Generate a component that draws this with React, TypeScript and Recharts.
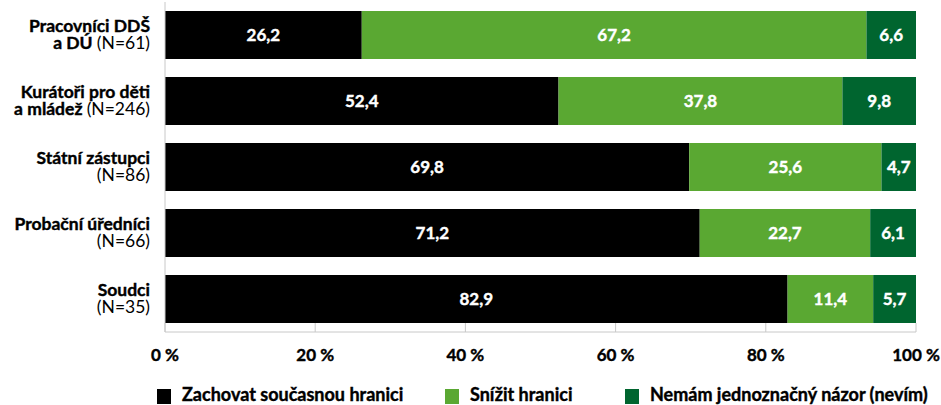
import React from 'react';
import { BarChart, Bar, XAxis, YAxis, LabelList } from 'recharts';

const categories = ['Pracovníci DDŠ', 'Kurátoři pro děti', 'Státní zástupci', 'Probační úředníci', 'Soudci'];
const secondLineBold = ['a DÚ', 'a mládež', '', '', ''];
const sampleSizes = ['(N=61)', '(N=246)', '(N=86)', '(N=66)', '(N=35)'];
const keepValues = [26.2, 52.4, 69.8, 71.2, 82.9];
const lowerValues = [67.2, 37.8, 25.6, 22.7, 11.4];
const unsureValues = [6.6, 9.8, 4.7, 6.1, 5.7];
const seriesNames = ['Zachovat současnou hranici', 'Snížit hranici', 'Nemám jednoznačný názor (nevím)'];
const xTicks = [0, 20, 40, 60, 80, 100];

const COLORS = ['#000000', '#5aa832', '#00652f'];
const FONT = 'Lato, "Open Sans", sans-serif';
const AXIS_GREY = '#c8c8c8';
const HEAVY = 700;

const data = categories.map((name, i) => ({
  name,
  keep: keepValues[i],
  lower: lowerValues[i],
  unsure: unsureValues[i],
}));

const fmt = (v: any) => String(v).replace('.', ',');

const YTick = (props: any) => {
  const { x, y, payload } = props;
  const i = categories.indexOf(payload.value);
  const bold2 = secondLineBold[i];
  return (
    <g>
      <text x={x} y={y - 3} textAnchor="end" fontFamily={FONT} fontSize={17.5} fontWeight={HEAVY} fill="#000" stroke="#000" strokeWidth={0.4}>
        {payload.value}
      </text>
      <text x={x} y={y + 14} textAnchor="end" fontFamily={FONT} fontSize={17.5} fill="#000">
        {bold2 ? <tspan fontWeight={HEAVY} stroke="#000" strokeWidth={0.4}>{bold2 + ' '}</tspan> : null}
        <tspan fontWeight={400}>{sampleSizes[i]}</tspan>
      </text>
    </g>
  );
};

const XTick = (props: any) => {
  const { x, y, payload } = props;
  return (
    <g>
      <line x1={x} x2={x} y1={y - 9} y2={y} stroke={AXIS_GREY} strokeWidth={1} />
      <text x={x} y={y + 29} textAnchor="middle" fontFamily={FONT} fontSize={17} fontWeight={HEAVY} fill="#000" stroke="#000" strokeWidth={0.4}>
        {`${payload.value} %`}
      </text>
    </g>
  );
};

const legendLefts = [157, 445, 625];

const labelProps = {
  position: 'center' as const,
  fill: '#fff',
  stroke: '#fff',
  strokeWidth: 0.4,
  fontSize: 17,
  fontWeight: HEAVY,
  fontFamily: FONT,
  formatter: fmt,
};

export default function App() {
  return (
    <div style={{ position: 'absolute', left: 0, top: 0, width: 941, height: 405, fontFamily: FONT, background: '#fff' }}>
      <BarChart
        width={941}
        height={405}
        data={data}
        layout="vertical"
        margin={{ top: 2, right: 25, bottom: 43, left: 0 }}
        barCategoryGap={9}
      >
        <XAxis
          type="number"
          domain={[0, 100]}
          ticks={xTicks}
          allowDataOverflow
          axisLine={{ stroke: AXIS_GREY }}
          tickLine={false}
          tickSize={0}
          tickMargin={0}
          height={30}
          tick={<XTick />}
          interval={0}
        />
        <YAxis
          type="category"
          dataKey="name"
          width={165}
          axisLine={{ stroke: AXIS_GREY }}
          tickLine={false}
          tickSize={0}
          tickMargin={15}
          tick={<YTick />}
          interval={0}
        />
        <Bar dataKey="keep" stackId="a" fill={COLORS[0]} isAnimationActive={false}>
          <LabelList dataKey="keep" {...labelProps} />
        </Bar>
        <Bar dataKey="lower" stackId="a" fill={COLORS[1]} isAnimationActive={false}>
          <LabelList dataKey="lower" {...labelProps} />
        </Bar>
        <Bar dataKey="unsure" stackId="a" fill={COLORS[2]} isAnimationActive={false}>
          <LabelList dataKey="unsure" {...labelProps} />
        </Bar>
      </BarChart>
      {seriesNames.map((s, i) => (
        <div
          key={s}
          style={{
            position: 'absolute',
            left: legendLefts[i],
            top: 384,
            display: 'flex',
            alignItems: 'flex-start',
            whiteSpace: 'nowrap',
          }}
        >
          <span style={{ display: 'inline-block', width: 14, height: 15, background: COLORS[i], marginRight: 11, marginTop: 5 }} />
          <span style={{ fontSize: 18, fontWeight: HEAVY, lineHeight: '20px', color: '#000', WebkitTextStroke: '0.4px #000' }}>{s}</span>
        </div>
      ))}
    </div>
  );
}
